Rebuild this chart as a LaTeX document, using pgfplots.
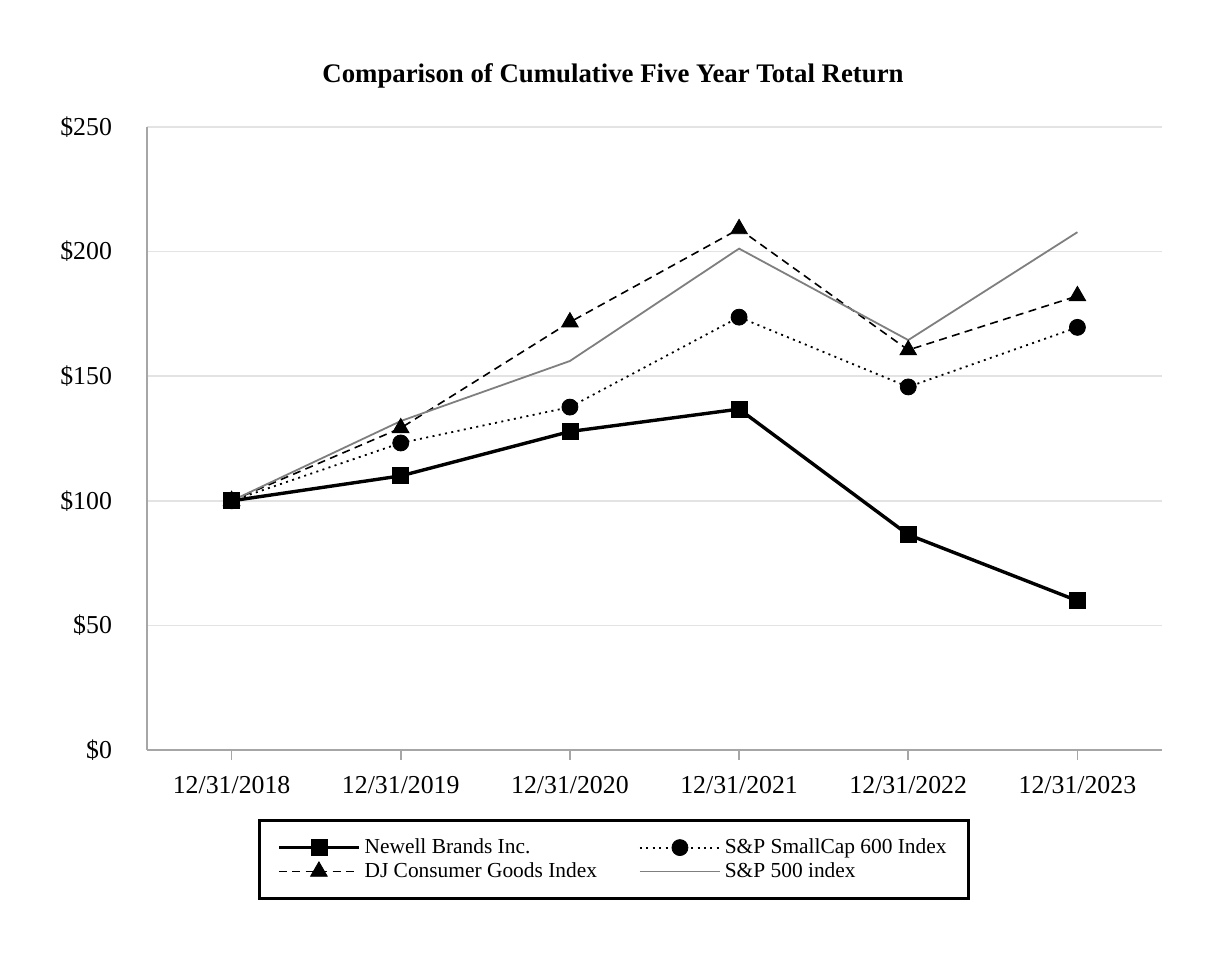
\documentclass[border=0pt]{standalone}
\usepackage{pgfplots}
\pgfplotsset{compat=1.18}
\usepackage{fontspec}
\setmainfont{Liberation Serif}
\definecolor{gridc}{HTML}{E3E3E3}
\definecolor{axc}{HTML}{A6A6A6}
\definecolor{spc}{HTML}{7F7F7F}
\begin{document}
\begin{tikzpicture}
\path[use as bounding box] (-73.5pt,-105pt) rectangle (539.5pt,375pt);
\begin{axis}[
  at={(0pt,0pt)}, anchor=south west,
  scale only axis, width=507.5pt, height=311.5pt,
  xmin=-0.5, xmax=5.5, ymin=0, ymax=250,
  axis lines=left, axis line style={-, draw=axc, line width=0.9pt},
  xtick={0,1,2,3,4,5},
  xticklabels={12/31/2018,12/31/2019,12/31/2020,12/31/2021,12/31/2022,12/31/2023},
  ytick={0,50,100,150,200,250},
  yticklabels={\$0,\$50,\$100,\$150,\$200,\$250},
  ymajorgrids, grid style={draw=gridc, line width=0.8pt},
  tick align=outside, major tick length=5pt,
  x tick style={draw=axc, line width=0.8pt},
  y tick style={draw=none},
  ticklabel style={font=\fontsize{12.9}{14}\selectfont},
  xticklabel style={yshift=-4.5pt},
  yticklabel style={xshift=-9pt},
  legend columns=2,
  legend style={at={(axis description cs:0.46,-0.1758)}, anchor=center,
    draw=black, line width=1.5pt, font=\fontsize{10.7}{12}\selectfont,
    inner xsep=9pt, inner ysep=7pt,
    /tikz/every even column/.append style={column sep=19pt},
    row sep=-1pt},
  legend cell align=left,
  legend image code/.code={\draw[mark repeat=2,mark phase=2] plot coordinates {(0pt,0pt) (20pt,0pt) (40pt,0pt)};},
]
\addplot[black, line width=1.7pt, mark=square*, mark size=4pt, mark options={solid, line width=0.4pt}]
  coordinates {(0,100) (1,110) (2,127.8) (3,136.8) (4,86.4) (5,59.9)};
\addlegendentry{Newell Brands Inc.}
\addplot[black, line width=0.9pt, dash pattern=on 1pt off 2.2pt, mark=*, mark size=4pt, mark options={solid, line width=0.4pt}]
  coordinates {(0,100) (1,123.2) (2,137.6) (3,173.7) (4,145.7) (5,169.6)};
\addlegendentry{S\&P SmallCap 600 Index}
\addplot[black, line width=0.8pt, dash pattern=on 4pt off 2.7pt, mark=triangle*, mark size=4.8pt, mark options={solid, line width=0.4pt}]
  coordinates {(0,100) (1,129.2) (2,171.7) (3,209.1) (4,160.5) (5,182.2)};
\addlegendentry{DJ Consumer Goods Index}
\addplot[spc, line width=0.9pt, mark=none]
  coordinates {(0,100) (1,132) (2,156.1) (3,201.2) (4,164.5) (5,207.8)};
\addlegendentry{S\&P 500 index}
\end{axis}
\node[font=\bfseries\fontsize{13.4}{15}\selectfont] at (233pt,337pt) {Comparison of Cumulative Five Year Total Return};
\end{tikzpicture}
\end{document}
